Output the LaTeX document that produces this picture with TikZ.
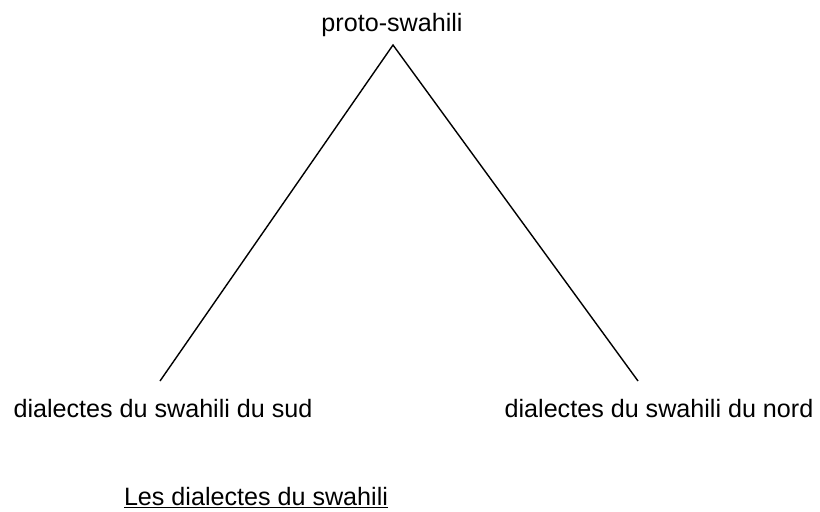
\documentclass[tikz,border=0pt]{standalone}
\usepackage{fontspec}
\setmainfont{Liberation Sans}
\usepackage{tikz}
\tikzset{>=latex}
\tikzset{lbl/.style={anchor=base, inner sep=0pt, font=\fontsize{14.3}{17}\selectfont}}

\begin{document}
\begin{tikzpicture}[x=0.02cm, y=-0.02cm]
    \useasboundingbox (0, 0) rectangle (820, 511);
    \node[lbl](proto) at (392, 31){proto-swahili};
    \node[lbl](sud) at (163, 417){dialectes du swahili du sud};
    \node[lbl](nord) at (659, 417){dialectes du swahili du nord};
    \node[lbl](titre) at (256, 505){\underline{Les dialectes du swahili}};
    \coordinate (apex) at (393, 45);
    \coordinate (sudtip) at (160, 381);
    \coordinate (nordtip) at (638, 381);
    \draw[line width=0.8pt](sudtip)--(apex)--(nordtip);
\end{tikzpicture}
\end{document}
